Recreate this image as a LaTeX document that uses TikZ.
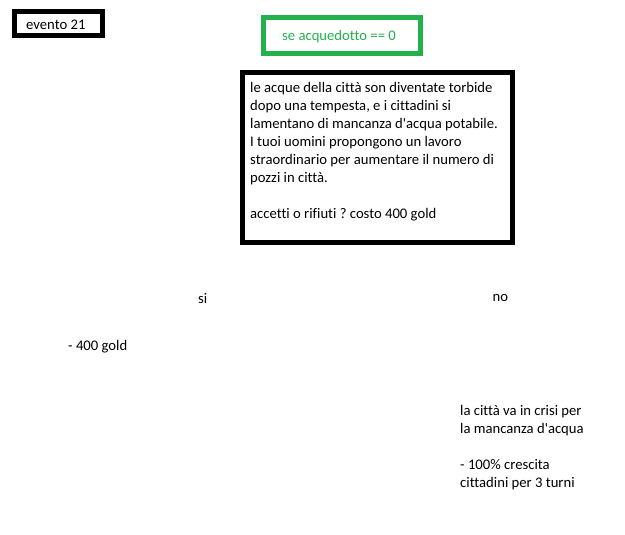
\documentclass[tikz,border=0pt]{standalone}
\usepackage{fontspec}
\setmainfont{Carlito}[Ligatures={NoCommon,TeXOff}]
\definecolor{paintgreen}{RGB}{34,177,76}
\frenchspacing

\begin{document}
\begin{tikzpicture}[x=1pt,y=1pt]
      \tikzstyle{every node}+=[inner sep=0pt,font=\fontsize{14.67}{18}\selectfont]
      \tikzstyle{txt}=[anchor=north west,align=left]
      \tikzstyle{lbl}=[anchor=base west]
      \useasboundingbox (0,0) rectangle (625,-535);
      \draw [black,line width=5pt] (14.5,-11.5) rectangle (102.5,-35.5);
      \node [lbl] (evento) at (26,-30) {evento 21};
      \draw [paintgreen,line width=5pt] (263.5,-17.5) rectangle (420.5,-53.5);
      \node [lbl,text=paintgreen] (cond) at (282,-40.5) {se acquedotto == 0};
      \draw [black,line width=5pt] (242.5,-72.5) rectangle (512.5,-242.5);
      \node [txt] (testo) at (250,-82) {le acque della città son diventate torbide\\
        dopo una tempesta, e i cittadini si\\
        lamentano di mancanza d'acqua potabile.\\
        I tuoi uomini propongono un lavoro\\
        straordinario per aumentare il numero di\\
        pozzi in città.\\[18pt]
        accetti o rifiuti ? costo 400 gold};
      \node [lbl] (si) at (198,-303.5) {si};
      \node [lbl] (no) at (492.5,-301) {no};
      \node [lbl] (costo) at (68,-350) {- 400 gold};
      \node [txt] (crisi) at (460,-405) {la città va in crisi per\\
        la mancanza d'acqua\\[18pt]
        - 100\% crescita\\
        cittadini per 3 turni};
    \end{tikzpicture}
\end{document}
